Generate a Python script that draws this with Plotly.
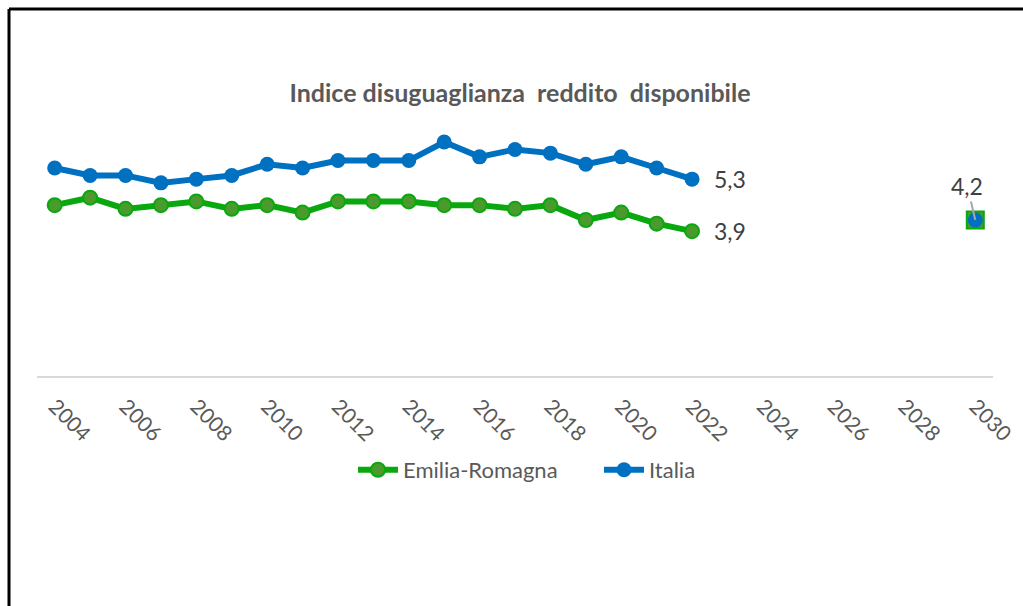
import plotly.graph_objects as go

# ---- data ----
years = list(range(2004, 2031))
emilia_romagna = [4.6, 4.8, 4.5, 4.6, 4.7, 4.5, 4.6, 4.4, 4.7, 4.7, 4.7, 4.6, 4.6, 4.5, 4.6, 4.2, 4.4, 4.1, 3.9,
                  None, None, None, None, None, None, None, 4.2]
italia = [5.6, 5.4, 5.4, 5.2, 5.3, 5.4, 5.7, 5.6, 5.8, 5.8, 5.8, 6.3, 5.9, 6.1, 6.0, 5.7, 5.9, 5.6, 5.3,
          None, None, None, None, None, None, None, 4.2]
tick_years = list(range(2004, 2031, 2))
title_text = "Indice disuguaglianza  reddito  disponibile"

# ---- layout constants (pixels) ----
W, H = 1023, 606
L, R, T, B = 37, 30, 116, 230
plot_w = W - L - R
plot_h = H - T - B
FONT = "Lato"

def px_to_paper_x(px):
    return (px - L) / plot_w

def px_to_paper_y(py):
    return (H - B - py) / plot_h

def fmt(v):
    return f"{v:.1f}".replace(".", ",")

GREEN_LINE = "#0aa80f"
GREEN_FILL = "#4b9a2d"
BLUE = "#0070c0"

er_symbols = ["circle"] * (len(years) - 1) + ["square"]
er_sizes = [14] * (len(years) - 1) + [17]

fig = go.Figure()
fig.add_trace(go.Scatter(
    x=years, y=emilia_romagna, name="Emilia-Romagna", mode="lines+markers",
    connectgaps=False,
    line=dict(color=GREEN_LINE, width=6),
    marker=dict(color=GREEN_FILL, size=er_sizes, symbol=er_symbols, opacity=1,
                line=dict(color=GREEN_LINE, width=2)),
))
fig.add_trace(go.Scatter(
    x=years, y=italia, name="Italia", mode="lines+markers",
    connectgaps=False,
    line=dict(color=BLUE, width=6),
    marker=dict(color=BLUE, size=15, symbol="circle", opacity=1, line=dict(color=BLUE, width=0)),
))

# data labels
last_idx = 2022 - years[0]
for series in (italia, emilia_romagna):
    fig.add_annotation(x=years[last_idx], y=series[last_idx], text=fmt(series[last_idx]),
                       showarrow=False, xanchor="left", yanchor="middle", xshift=20,
                       font=dict(family=FONT, size=23, color="#404040"))
fig.add_annotation(x=years[-1], y=italia[-1], text=fmt(italia[-1]),
                   showarrow=True, arrowhead=0, arrowwidth=2, arrowcolor="#a6a6a6",
                   ax=-8, ay=-34, standoff=0, startstandoff=0,
                   font=dict(family=FONT, size=23, color="#404040"))

# frame lines (left and top)
fig.add_shape(type="line", xref="paper", yref="paper",
              x0=px_to_paper_x(9), x1=px_to_paper_x(9),
              y0=px_to_paper_y(9), y1=px_to_paper_y(H + 5),
              line=dict(color="black", width=3))
fig.add_shape(type="line", xref="paper", yref="paper",
              x0=px_to_paper_x(9), x1=px_to_paper_x(W + 5),
              y0=px_to_paper_y(9), y1=px_to_paper_y(9),
              line=dict(color="black", width=3))

fig.update_layout(
    width=W, height=H,
    margin=dict(l=L, r=R, t=T, b=B, autoexpand=False),
    paper_bgcolor="white", plot_bgcolor="white",
    title=dict(text=f"<b>{title_text}</b>", x=520 / W, xanchor="center",
               y=1 - 93 / H, yanchor="middle", yref="container",
               font=dict(family=FONT, size=25, color="#595959")),
    xaxis=dict(range=[2003.5, 2030.5], tickvals=tick_years, tickangle=45,
               showgrid=False, zeroline=False, showline=True, linecolor="#d9d9d9", linewidth=2,
               ticks="", ticklabelstandoff=8, automargin=False,
               tickfont=dict(family=FONT, size=21, color="#595959")),
    yaxis=dict(range=[0, 7], visible=False, automargin=False),
    showlegend=True,
    legend=dict(orientation="h", x=353 / W, xanchor="left", xref="container",
                y=1 - 470 / H, yanchor="middle", yref="container",
                font=dict(family=FONT, size=22, color="#595959"),
                itemwidth=40, entrywidth=191, entrywidthmode="pixels",
                traceorder="normal"),
)

fig.write_html("out.html", config={"displayModeBar": False},
               post_script="document.body.style.margin='0';document.body.style.overflow='hidden';")
